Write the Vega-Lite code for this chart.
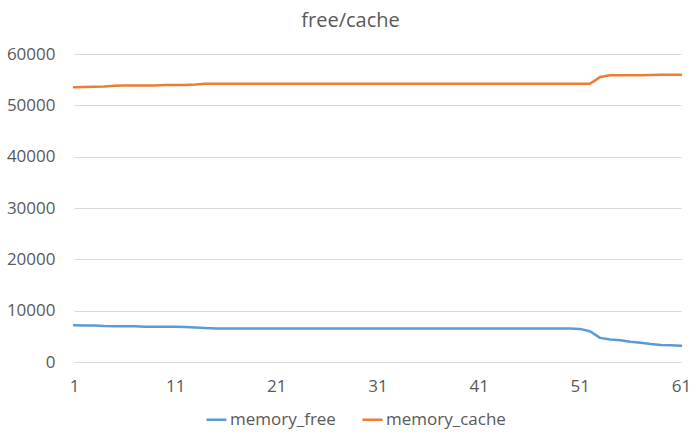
{
  "$schema": "https://vega.github.io/schema/vega-lite/v6.json",
  "autosize": "none",
  "width": 607,
  "height": 308,
  "padding": {"left": 74, "top": 54, "right": 19, "bottom": 78},
  "background": "white",
  "config": {
    "font": "Open Sans",
    "view": {"stroke": null},
    "axis": {"labelFont": "Open Sans", "labelFontSize": 17, "labelColor": "#595959", "ticks": false, "domain": false, "title": null}
  },
  "title": {"text": "free/cache", "fontSize": 20, "fontWeight": "normal", "color": "#595959", "font": "Open Sans", "anchor": "middle", "dx": -27, "offset": 14},
  "data": {"values": [
    {"t":1,"memory_free":7150,"memory_cache":53500},
    {"t":2,"memory_free":7100,"memory_cache":53550},
    {"t":3,"memory_free":7100,"memory_cache":53600},
    {"t":4,"memory_free":7000,"memory_cache":53650},
    {"t":5,"memory_free":6950,"memory_cache":53800},
    {"t":6,"memory_free":6950,"memory_cache":53850},
    {"t":7,"memory_free":6950,"memory_cache":53850},
    {"t":8,"memory_free":6850,"memory_cache":53850},
    {"t":9,"memory_free":6850,"memory_cache":53850},
    {"t":10,"memory_free":6850,"memory_cache":53950},
    {"t":11,"memory_free":6850,"memory_cache":53950},
    {"t":12,"memory_free":6800,"memory_cache":53950},
    {"t":13,"memory_free":6700,"memory_cache":54050},
    {"t":14,"memory_free":6600,"memory_cache":54200},
    {"t":15,"memory_free":6550,"memory_cache":54200},
    {"t":16,"memory_free":6550,"memory_cache":54200},
    {"t":17,"memory_free":6550,"memory_cache":54200},
    {"t":18,"memory_free":6550,"memory_cache":54200},
    {"t":19,"memory_free":6550,"memory_cache":54200},
    {"t":20,"memory_free":6550,"memory_cache":54200},
    {"t":21,"memory_free":6550,"memory_cache":54200},
    {"t":22,"memory_free":6550,"memory_cache":54200},
    {"t":23,"memory_free":6550,"memory_cache":54200},
    {"t":24,"memory_free":6550,"memory_cache":54200},
    {"t":25,"memory_free":6550,"memory_cache":54200},
    {"t":26,"memory_free":6550,"memory_cache":54200},
    {"t":27,"memory_free":6550,"memory_cache":54200},
    {"t":28,"memory_free":6550,"memory_cache":54200},
    {"t":29,"memory_free":6550,"memory_cache":54200},
    {"t":30,"memory_free":6550,"memory_cache":54200},
    {"t":31,"memory_free":6550,"memory_cache":54200},
    {"t":32,"memory_free":6550,"memory_cache":54200},
    {"t":33,"memory_free":6550,"memory_cache":54200},
    {"t":34,"memory_free":6550,"memory_cache":54200},
    {"t":35,"memory_free":6550,"memory_cache":54200},
    {"t":36,"memory_free":6550,"memory_cache":54200},
    {"t":37,"memory_free":6550,"memory_cache":54200},
    {"t":38,"memory_free":6550,"memory_cache":54200},
    {"t":39,"memory_free":6550,"memory_cache":54200},
    {"t":40,"memory_free":6550,"memory_cache":54200},
    {"t":41,"memory_free":6550,"memory_cache":54200},
    {"t":42,"memory_free":6550,"memory_cache":54200},
    {"t":43,"memory_free":6550,"memory_cache":54200},
    {"t":44,"memory_free":6550,"memory_cache":54200},
    {"t":45,"memory_free":6550,"memory_cache":54200},
    {"t":46,"memory_free":6550,"memory_cache":54200},
    {"t":47,"memory_free":6550,"memory_cache":54200},
    {"t":48,"memory_free":6550,"memory_cache":54200},
    {"t":49,"memory_free":6550,"memory_cache":54200},
    {"t":50,"memory_free":6550,"memory_cache":54200},
    {"t":51,"memory_free":6450,"memory_cache":54200},
    {"t":52,"memory_free":6000,"memory_cache":54200},
    {"t":53,"memory_free":4700,"memory_cache":55500},
    {"t":54,"memory_free":4400,"memory_cache":55850},
    {"t":55,"memory_free":4250,"memory_cache":55850},
    {"t":56,"memory_free":3950,"memory_cache":55850},
    {"t":57,"memory_free":3750,"memory_cache":55850},
    {"t":58,"memory_free":3500,"memory_cache":55900},
    {"t":59,"memory_free":3300,"memory_cache":55950},
    {"t":60,"memory_free":3250,"memory_cache":55950},
    {"t":61,"memory_free":3150,"memory_cache":55950}
  ]},
  "transform": [{"fold": ["memory_free", "memory_cache"], "as": ["series", "value"]}],
  "mark": {"type": "line", "strokeWidth": 2.5, "strokeCap": "round", "strokeJoin": "round"},
  "encoding": {
    "x": {"field": "t", "type": "quantitative", "scale": {"domain": [1, 61], "nice": false, "zero": false},
      "axis": {"values": [1, 11, 21, 31, 41, 51, 61], "grid": false, "labelPadding": 16, "labelFlush": false}},
    "y": {"field": "value", "type": "quantitative", "scale": {"domain": [0, 60000], "nice": false},
      "axis": {"values": [0, 10000, 20000, 30000, 40000, 50000, 60000], "format": "d", "grid": true, "gridColor": "#d9d9d9", "gridWidth": 1, "labelPadding": 19}},
    "color": {"field": "series", "type": "nominal",
      "scale": {"domain": ["memory_free", "memory_cache"], "range": ["#5B9BD5", "#ED7D31"]},
      "legend": {"title": null, "orient": "none", "direction": "horizontal", "legendX": 131, "legendY": 354,
        "symbolType": "stroke", "symbolSize": 400, "symbolStrokeWidth": 2.5, "labelFontSize": 17, "labelColor": "#595959", "labelFont": "Open Sans", "labelOffset": 2, "columnPadding": 21}}
  }
}
